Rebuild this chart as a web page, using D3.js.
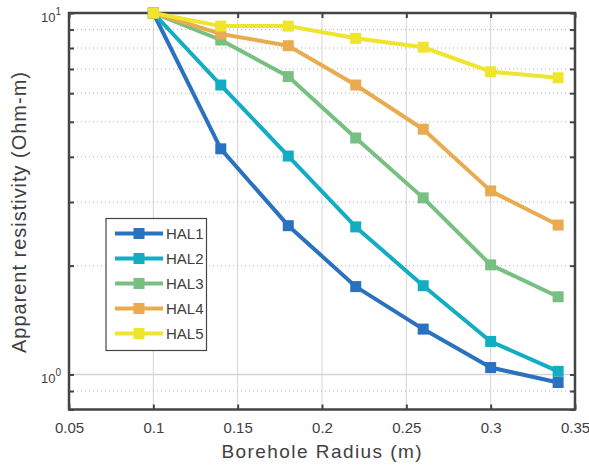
<!DOCTYPE html>
<html><head><meta charset="utf-8">
<script src="https://cdn.jsdelivr.net/npm/d3@7"></script>
<style>body{margin:0;background:#fff}svg{display:block;font-family:"Liberation Sans",Arial,sans-serif}</style>
</head><body><svg id="c" width="589" height="468"></svg>
<script>
const radius = [0.1, 0.14, 0.18, 0.22, 0.26, 0.3, 0.34];
const seriesNames = ["HAL1", "HAL2", "HAL3", "HAL4", "HAL5"];
const hal1 = [10, 4.21, 2.58, 1.75, 1.335, 1.045, 0.95];
const hal2 = [10, 6.32, 4.02, 2.56, 1.76, 1.234, 1.02];
const hal3 = [10, 8.42, 6.67, 4.51, 3.08, 2.01, 1.64];
const hal4 = [10, 8.75, 8.12, 6.32, 4.77, 3.22, 2.59];
const hal5 = [10, 9.2, 9.2, 8.51, 8.04, 6.88, 6.62];
const xTicks = [0.05, 0.1, 0.15, 0.2, 0.25, 0.3, 0.35];
const xTickLabels = ["0.05", "0.1", "0.15", "0.2", "0.25", "0.3", "0.35"];
const yMajor = [1, 10];
const yMinor = [0.8, 0.9, 2, 3, 4, 5, 6, 7, 8, 9];
const colors = ["#2a72c0", "#13adc3", "#77c082", "#e8ab50", "#efe42e"];
const allSeries = [hal1, hal2, hal3, hal4, hal5];

const L = 69, R = 575, T = 13, B = 409.5;
const svg = d3.select("#c");
const x = d3.scaleLinear().domain([0.05, 0.35]).range([L, R]);
const y = d3.scaleLog().domain([0.8, 10]).range([B, T]);
const axisCol = "#444", textCol = "#404040";

// grid
const g = svg.append("g");
g.selectAll(".vx").data(xTicks.slice(1, -1)).join("line")
  .attr("x1", d => x(d)).attr("x2", d => x(d)).attr("y1", T).attr("y2", B)
  .attr("stroke", "#d4d4d4").attr("stroke-width", 1);
g.selectAll(".hy").data(yMajor.filter(d => d < 10)).join("line")
  .attr("x1", L).attr("x2", R).attr("y1", d => y(d)).attr("y2", d => y(d))
  .attr("stroke", "#d4d4d4").attr("stroke-width", 1.5);
g.selectAll(".hm").data(yMinor.filter(d => d > 0.8)).join("line")
  .attr("x1", L).attr("x2", R).attr("y1", d => y(d)).attr("y2", d => y(d))
  .attr("stroke", "#b0b0b0").attr("stroke-width", 1).attr("stroke-dasharray", "1,3");

// axes
const ax = svg.append("g");
const xb = ax.append("g").attr("transform", `translate(0,${B})`)
  .call(d3.axisBottom(x).tickValues(xTicks).tickFormat((d, i) => xTickLabels[i]).tickSizeInner(-5).tickSizeOuter(0).tickPadding(13));
const xt = ax.append("g").attr("transform", `translate(0,${T})`)
  .call(d3.axisTop(x).tickValues(xTicks).tickFormat("").tickSizeInner(-5).tickSizeOuter(0));
const yl = ax.append("g").attr("transform", `translate(${L},0)`)
  .call(d3.axisLeft(y).tickValues(yMajor.concat(yMinor)).tickFormat("").tickSizeInner(-5).tickSizeOuter(0));
const yr = ax.append("g").attr("transform", `translate(${R},0)`)
  .call(d3.axisRight(y).tickValues(yMajor.concat(yMinor)).tickFormat("").tickSizeInner(-5).tickSizeOuter(0));
[xb, xt, yl, yr].forEach(a => {
  a.select(".domain").remove();
  a.selectAll(".tick line").attr("stroke", axisCol).attr("stroke-width", 2);
});
xb.selectAll(".tick text").attr("fill", textCol).attr("font-size", 15).attr("font-family", "Liberation Sans, Arial, sans-serif");
svg.append("rect").attr("x", L).attr("y", T).attr("width", R - L).attr("height", B - T)
  .attr("fill", "none").attr("stroke", axisCol).attr("stroke-width", 2.5);

// y major labels 10^n
yMajor.forEach(v => {
  const t = svg.append("text").attr("x", 61).attr("y", y(v) + 9).attr("text-anchor", "end")
    .attr("fill", textCol).attr("font-size", 13);
  t.append("tspan").text("10");
  t.append("tspan").attr("dy", -7).attr("font-size", 10).text(Math.round(Math.log10(v)));
});

// lines
const line = d3.line().x((d, i) => x(radius[i])).y(d => y(d));
allSeries.forEach((s, k) => {
  svg.append("path").datum(s).attr("d", line).attr("fill", "none")
    .attr("stroke", colors[k]).attr("stroke-width", 4).attr("stroke-linejoin", "round");
});
allSeries.forEach((s, k) => {
  svg.selectAll(null).data(s).join("rect")
    .attr("x", (d, i) => x(radius[i]) - 5.5).attr("y", d => y(d) - 5.5)
    .attr("width", 11).attr("height", 11).attr("fill", colors[k]);
});

// legend
const lg = svg.append("g");
lg.append("rect").attr("x", 106).attr("y", 218.5).attr("width", 100.5).attr("height", 132)
  .attr("fill", "#fff").attr("stroke", axisCol).attr("stroke-width", 1.2);
seriesNames.forEach((n, k) => {
  const yy = 233.5 + k * 25;
  lg.append("line").attr("x1", 115).attr("x2", 163).attr("y1", yy).attr("y2", yy)
    .attr("stroke", colors[k]).attr("stroke-width", 4);
  lg.append("rect").attr("x", 139 - 5.5).attr("y", yy - 5.5).attr("width", 11).attr("height", 11).attr("fill", colors[k]);
  lg.append("text").attr("x", 166).attr("y", yy + 5.5).attr("fill", textCol).attr("font-size", 15).text(n);
});

// axis titles
svg.append("text").attr("x", 321.5).attr("y", 458).attr("text-anchor", "middle")
  .attr("fill", textCol).attr("font-size", 19).attr("textLength", 200).attr("lengthAdjust", "spacing")
  .text("Borehole Radius (m)");
svg.append("text").attr("transform", `translate(26,212.5) rotate(-90)`).attr("text-anchor", "middle")
  .attr("fill", textCol).attr("font-size", 20).attr("textLength", 281).attr("lengthAdjust", "spacing")
  .text("Apparent resistivity (Ohm-m)");
</script></body></html>
